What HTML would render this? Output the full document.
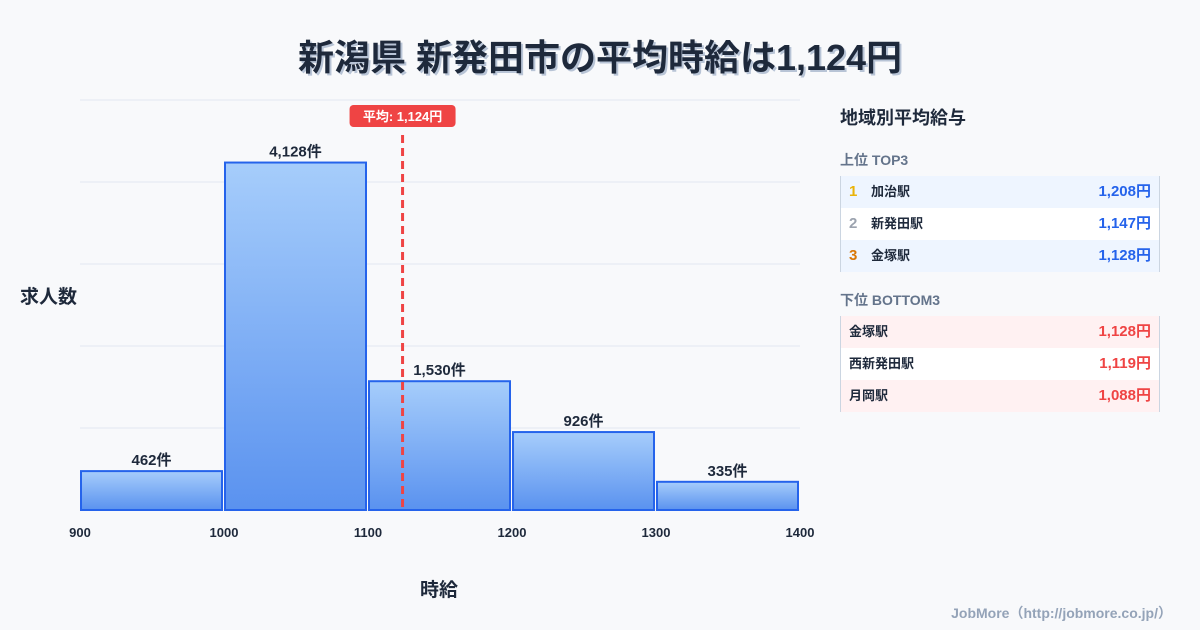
<!DOCTYPE html>
<html><head><meta charset="utf-8"><style>
body{margin:0;width:1200px;height:630px;background:#f8f9fb;font-family:"Liberation Sans","Noto Sans CJK JP",sans-serif;position:relative;overflow:hidden;color:#1e293b}
.abs{position:absolute}
#title{left:0;width:1200px;top:29px;text-align:center;font-size:36px;font-weight:bold;color:#1e293b;text-shadow:2px 2px 0 #b8c4d6}
.panel{left:840px;width:320px}
.row{position:relative;height:32px;font-size:13px;font-weight:bold;border-left:1px solid #cbd5e1;border-right:1px solid #cbd5e1;box-sizing:border-box}
.row span{position:absolute;top:0;line-height:32px}
.val{right:8px;font-size:15px}
.rk{font-size:15px}
</style></head><body>
<div id="title" class="abs">新潟県 新発田市の平均時給は1,124円</div>
<svg class="abs" style="left:0;top:0" width="830" height="630" id="chart"></svg>
<div class="abs" style="left:20px;top:282px;font-size:19px;font-weight:bold">求人数</div>
<div class="abs" style="left:420px;top:575px;font-size:19px;font-weight:bold">時給</div>
<div class="abs panel" style="top:104px;font-size:18px;font-weight:bold">地域別平均給与</div>
<div class="abs panel" style="top:150px;font-size:14px;font-weight:bold;color:#64748b">上位 TOP3</div>
<div class="abs panel" style="top:176px">
<div class="row" style="background:#eef5ff"><span class="rk" style="left:8px;color:#eab308">1</span><span style="left:30px">加治駅</span><span class="val" style="color:#2563eb">1,208円</span></div>
<div class="row" style="background:#fff"><span class="rk" style="left:8px;color:#9ca3af">2</span><span style="left:30px">新発田駅</span><span class="val" style="color:#2563eb">1,147円</span></div>
<div class="row" style="background:#eef5ff"><span class="rk" style="left:8px;color:#d97706">3</span><span style="left:30px">金塚駅</span><span class="val" style="color:#2563eb">1,128円</span></div>
</div>
<div class="abs panel" style="top:290px;font-size:14px;font-weight:bold;color:#64748b">下位 BOTTOM3</div>
<div class="abs panel" style="top:316px">
<div class="row" style="background:#fff1f2"><span style="left:8px">金塚駅</span><span class="val" style="color:#ef4444">1,128円</span></div>
<div class="row" style="background:#fff"><span style="left:8px">西新発田駅</span><span class="val" style="color:#ef4444">1,119円</span></div>
<div class="row" style="background:#fff1f2"><span style="left:8px">月岡駅</span><span class="val" style="color:#ef4444">1,088円</span></div>
</div>
<div class="abs" style="right:28px;top:603px;font-size:14px;font-weight:bold;color:#94a3b8">JobMore（http://jobmore.co.jp/）</div>
<script>
const binStarts=[900,1000,1100,1200,1300];
const binWidth=100;
const counts=[462,4128,1530,926,335];
const countLabels=["462件","4,128件","1,530件","926件","335件"];
const xTicks=[900,1000,1100,1200,1300,1400];
const average=1124;
const avgLabel="平均: 1,124円";
const NS="http://www.w3.org/2000/svg";
const svg=document.getElementById('chart');
const x0=80,x1=800,xmin=900,xmax=1400,yb=510,yt=100;
const ymax=Math.max(...counts)*1.18;
const X=v=>x0+(v-xmin)/(xmax-xmin)*(x1-x0);
const Y=v=>yb-v/ymax*(yb-yt);
function mk(t,a){const e=document.createElementNS(NS,t);for(const k in a)e.setAttribute(k,a[k]);svg.appendChild(e);return e;}
const defs=mk('defs',{});
defs.innerHTML='<linearGradient id="g" x1="0" y1="0" x2="0" y2="1"><stop offset="0" stop-color="#a6cdfb"/><stop offset="1" stop-color="#5a92ef"/></linearGradient>';
for(let i=0;i<=5;i++){const y=yb-i*(yb-yt)/5;const l=mk('line',{x1:x0,x2:x1,y1:y,y2:y,stroke:'#e2e8f0','stroke-width':1});

}
counts.forEach((c,i)=>{
const xa=X(binStarts[i])+1,xb=X(binStarts[i]+binWidth)-2;
const r=mk('rect',{x:xa,y:Y(c),width:xb-xa,height:yb-Y(c),fill:'url(#g)',stroke:'#2563eb','stroke-width':2});


const t=mk('text',{x:(xa+xb)/2,y:Y(c)-6,'text-anchor':'middle','font-size':15,'font-weight':'bold',fill:'#1e293b'});
t.textContent=countLabels[i];


});
xTicks.forEach(v=>{const t=mk('text',{x:X(v),y:537,'text-anchor':'middle','font-size':13,'font-weight':'bold',fill:'#1e293b'});t.textContent=v;

});
const ax=X(average);
const al=mk('line',{x1:ax,x2:ax,y1:135,y2:yb,stroke:'#ef4444','stroke-width':3,'stroke-dasharray':'8,5'});


const ab=mk('rect',{x:ax-53,y:105,width:106,height:22,rx:4,fill:'#ef4444'});


const at=mk('text',{x:ax,y:121,'text-anchor':'middle','font-size':13,'font-weight':'bold',fill:'#fff'});at.textContent=avgLabel;


</script>
</body></html>
